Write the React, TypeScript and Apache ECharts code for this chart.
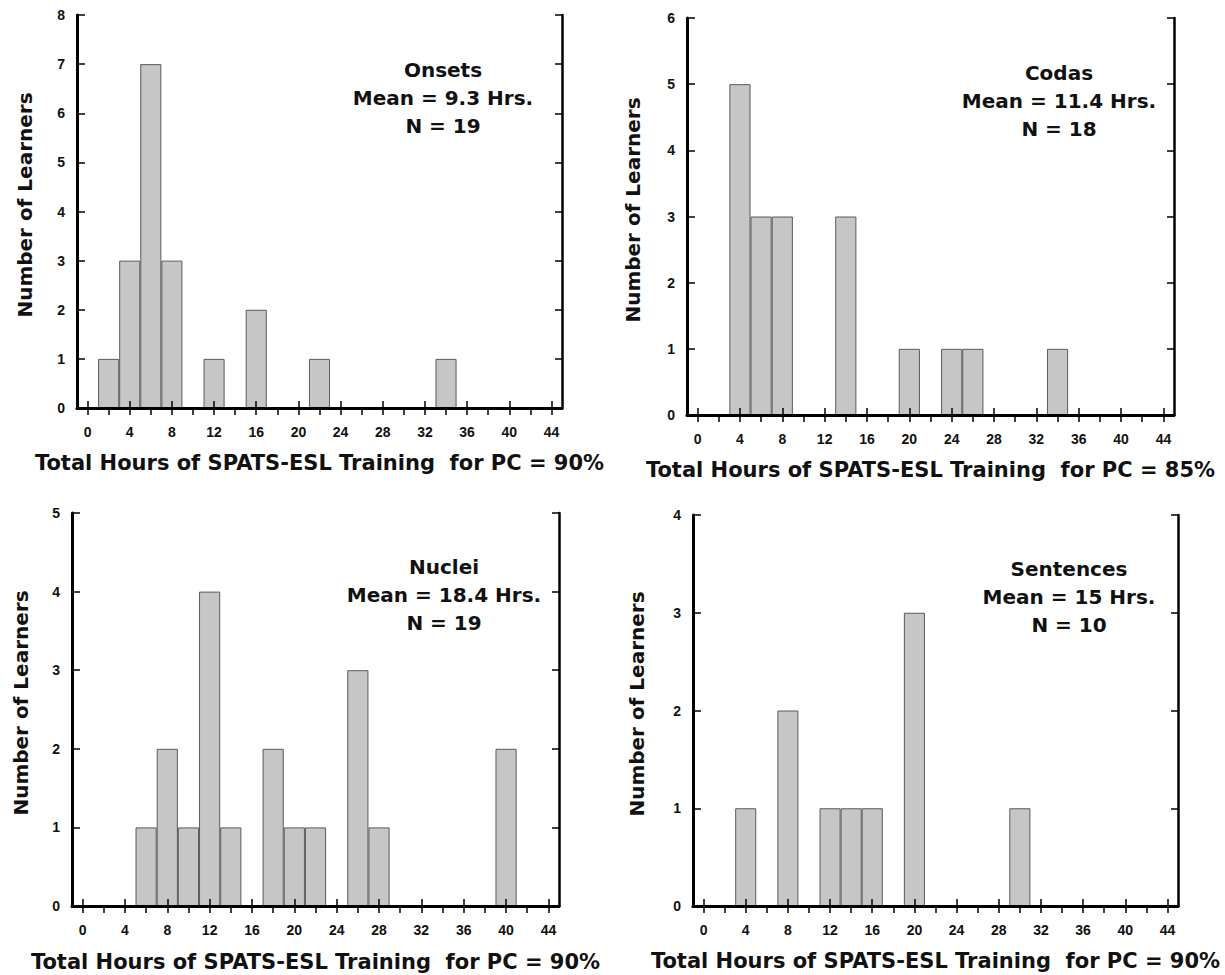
import React, { useEffect, useRef } from "react";
import * as echarts from "echarts";

// x bins (hours), each bar covers its bin centre +/- 1 hour
const hourBins = ["0","2","4","6","8","10","12","14","16","18","20","22","24","26","28","30","32","34","36","38","40","42","44"];

// Number of learners per bin
const onsetsCounts = [0,1,3,7,3,0,1,0,2,0,0,1,0,0,0,0,0,1,0,0,0,0,0];
const codasCounts = [0,0,5,3,3,0,0,3,0,0,1,0,1,1,0,0,0,1,0,0,0,0,0];
const nucleiCounts = [0,0,0,1,2,1,4,1,0,2,1,1,0,3,1,0,0,0,0,0,2,0,0];
const sentencesCounts = [0,0,1,0,2,0,1,1,1,0,3,0,0,0,0,1,0,0,0,0,0,0,0];

const yMaxima = [8, 6, 5, 4];
const panelNames = ["Onsets", "Codas", "Nuclei", "Sentences"];
const meanLabels = ["Mean = 9.3 Hrs.", "Mean = 11.4 Hrs.", "Mean = 18.4 Hrs.", "Mean = 15 Hrs."];
const nLabels = ["N = 19", "N = 18", "N = 19", "N = 10"];
const xTitles = [
  "Total Hours of SPATS-ESL Training  for PC = 90%",
  "Total Hours of SPATS-ESL Training  for PC = 85%",
  "Total Hours of SPATS-ESL Training  for PC = 90%",
  "Total Hours of SPATS-ESL Training  for PC = 90%",
];
const yTitle = "Number of Learners";
const allCounts = [onsetsCounts, codasCounts, nucleiCounts, sentencesCounts];

// layout (pixels)
const grids = [
  { left: 77, top: 15, width: 485, height: 393 },
  { left: 687, top: 18, width: 487, height: 397 },
  { left: 72, top: 513, width: 487, height: 393 },
  { left: 693, top: 515, width: 485, height: 391 },
];
const annotPos = [
  { x: 443, top: 56 },
  { x: 1059, top: 59 },
  { x: 444, top: 553 },
  { x: 1069, top: 555 },
];
const xNameGap = [44, 44, 45, 44];
const yNameGap = [42, 44, 41, 46];

const FONT = '"Liberation Sans", Arial, sans-serif';
const WIDE = '"DejaVu Sans", sans-serif';
const INK = "#111";

export default function App() {
  const ref = useRef<HTMLDivElement>(null);
  useEffect(() => {
    if (!ref.current) return;
    const chart = echarts.init(ref.current, undefined, { renderer: "svg" });
    const xAxes: any[] = [];
    const yAxes: any[] = [];
    const series: any[] = [];
    const titles: any[] = [];
    grids.forEach((g, i) => {
      const xi = xAxes.length;
      const yi = yAxes.length;
      xAxes.push({
        type: "category",
        gridIndex: i,
        position: "bottom",
        data: hourBins,
        z: 3,
        name: xTitles[i],
        nameLocation: "middle",
        nameGap: xNameGap[i],
        nameTextStyle: { fontSize: 21, fontWeight: "bold", fontFamily: WIDE, color: INK },
        axisLine: { show: true, lineStyle: { color: "#000", width: 3 } },
        axisTick: { show: true, inside: true, length: 7, alignWithLabel: true, lineStyle: { color: "#000", width: 1.5 } },
        axisLabel: { show: true, interval: 1, margin: 17, fontSize: 14, fontWeight: "bold", fontFamily: FONT, color: INK },
        splitLine: { show: false },
      });
      xAxes.push({
        type: "category",
        gridIndex: i,
        position: "top",
        data: hourBins,
        z: 3,
        axisLine: { show: true, lineStyle: { color: "#000", width: 2.5 } },
        axisTick: { show: true, inside: true, length: 7, alignWithLabel: true, lineStyle: { color: "#000", width: 1.5 } },
        axisLabel: { show: false },
        splitLine: { show: false },
      });
      yAxes.push({
        type: "value",
        gridIndex: i,
        position: "left",
        min: 0,
        max: yMaxima[i],
        interval: 1,
        z: 3,
        name: yTitle,
        nameLocation: "middle",
        nameGap: yNameGap[i],
        nameTextStyle: { fontSize: 20, fontWeight: "bold", fontFamily: WIDE, color: INK, padding: [0, 0, 0, 13] },
        axisLine: { show: true, lineStyle: { color: "#000", width: 3 } },
        axisTick: { show: true, inside: true, length: 8, lineStyle: { color: "#000", width: 1.5 } },
        axisLabel: { show: true, margin: 12, fontSize: 14, fontWeight: "bold", fontFamily: FONT, color: INK },
        splitLine: { show: false },
      });
      yAxes.push({
        type: "value",
        gridIndex: i,
        position: "right",
        min: 0,
        max: yMaxima[i],
        interval: 1,
        z: 3,
        axisLine: { show: true, lineStyle: { color: "#000", width: 2.5 } },
        axisTick: { show: true, inside: true, length: 7, lineStyle: { color: "#000", width: 1.5 } },
        axisLabel: { show: false },
        splitLine: { show: false },
      });
      series.push({
        type: "bar",
        xAxisIndex: xi,
        yAxisIndex: yi,
        data: allCounts[i].map((v) => (v > 0 ? v : "-")),
        barCategoryGap: "0%",
        z: 2,
        itemStyle: {
          color: "#c6c6c6",
          borderColor: "#5a5a5a",
          borderWidth: 1,
        },
      });
      titles.push({
        text: [panelNames[i], meanLabels[i], nLabels[i]].join("\n"),
        left: annotPos[i].x,
        top: annotPos[i].top,
        textAlign: "center",
        padding: 0,
        textStyle: { fontSize: 20, fontWeight: "bold", fontFamily: WIDE, color: INK, lineHeight: 28 },
      });
    });
    chart.setOption({
      animation: false,
      title: titles,
      grid: grids,
      xAxis: xAxes,
      yAxis: yAxes,
      series,
    });
    return () => chart.dispose();
  }, []);
  return (
    <div
      ref={ref}
      style={{ position: "fixed", left: 0, top: 0, width: 1225, height: 975, background: "#fff" }}
    />
  );
}
